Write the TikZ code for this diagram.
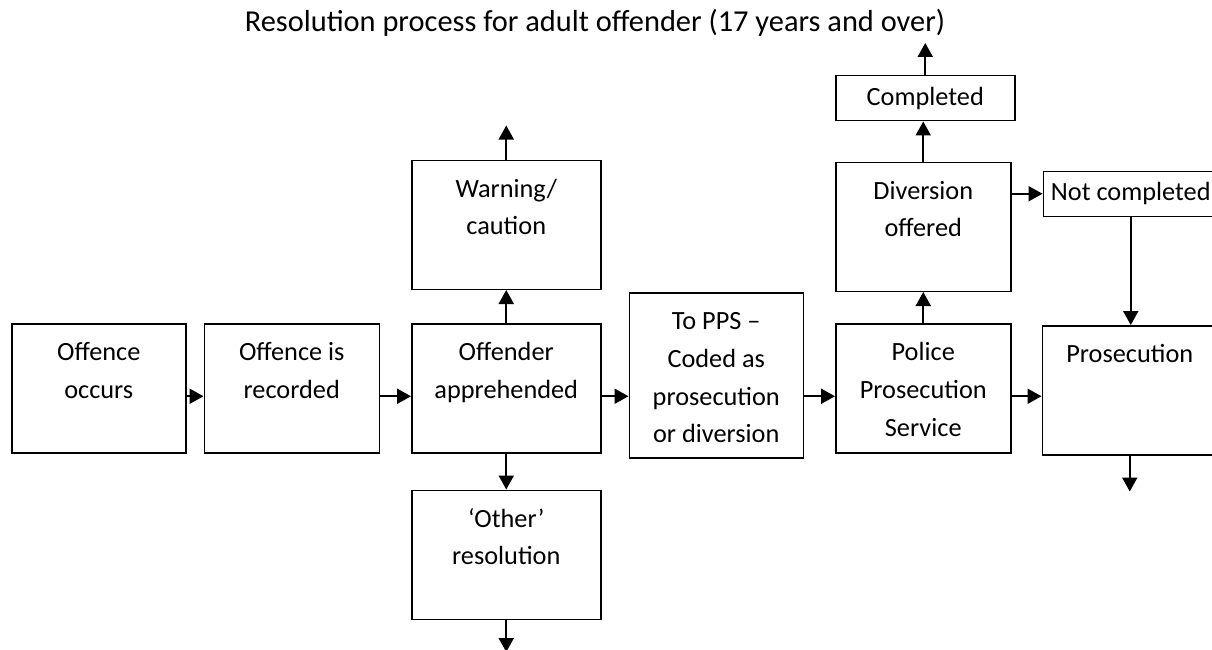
\documentclass[tikz,border=0pt]{standalone}
\usepackage{fontspec}
\setmainfont{Carlito}
\usepackage{tikz}
\usetikzlibrary{arrows.meta,positioning,calc}

\begin{document}
\begin{tikzpicture}[
    x=1pt, y=-1pt,
    box/.style={rectangle, draw=black, line width=1.5pt, align=flush center, inner sep=0pt, text height=37pt, text depth=92pt, font=\fontsize{26.3}{37.7}\selectfont},
    shortbox/.style={rectangle, draw=black, line width=1.5pt, align=flush center, inner sep=0pt, minimum height=45pt, font=\fontsize{26.3}{37.7}\selectfont},
    arrow/.style={->, >={Triangle[length=14pt,width=15pt]}, line width=2pt}
]
    \useasboundingbox (0,0) rectangle (1212,650);

    % Title
    \node[font=\fontsize{30.4}{36}\selectfont, anchor=base] (title) at (595,32) {Resolution process for adult offender (17 years and over)};

    % Main row
    \node[box, text width=174pt, anchor=north west] (occurs) at (11,323) {Offence\\occurs};
    \node[box, text width=175pt, right=17pt of occurs] (recorded) {Offence is\\recorded};
    \node[box, text width=189pt, right=31pt of recorded] (apprehended) {Offender\\apprehended};
    \node[box, text width=174pt, text depth=128pt, right=27pt of apprehended, yshift=13pt] (topps) {To PPS –\\Coded as\\prosecution\\or diversion};
    \node[box, text width=175pt, right=31pt of topps, yshift=-13pt] (pps) {Police\\Prosecution\\Service};
    \node[box, text width=175pt, right=30pt of pps, yshift=-2pt] (prosecution) {Prosecution};

    % Branches
    \node[box, text width=189pt, above=33pt of apprehended] (warning) {Warning/\\caution};
    \node[box, text width=189pt, below=36pt of apprehended] (other) {‘Other’\\resolution};
    \node[box, text width=175pt, above=31pt of pps] (diversion) {Diversion\\offered};
    \node[shortbox, text width=179pt, above=40pt of diversion, xshift=2pt] (completed) {Completed};
    \node[shortbox, text width=175pt, above=108pt of prosecution, xshift=1pt] (notcompleted) {Not completed};

    % Open ends
    \coordinate[above=34pt of warning] (warningout);
    \coordinate[below=32pt of other] (otherout);
    \coordinate[above=32pt of completed] (completedout);
    \coordinate[below=36pt of prosecution] (prosecutionout);

    % Arrows
    \draw[arrow] ([yshift=-8pt]occurs.east) -- ([yshift=-8pt]recorded.west);
    \draw[arrow] ([yshift=-8pt]recorded.east) -- ([yshift=-8pt]apprehended.west);
    \draw[arrow] ([yshift=-8pt]apprehended.east) -- ([yshift=-8pt]apprehended.east -| topps.west);
    \draw[arrow] ([yshift=-8pt]pps.west -| topps.east) -- ([yshift=-8pt]pps.west);
    \draw[arrow] ([yshift=-8pt]pps.east) -- ([yshift=-8pt]pps.east -| prosecution.west);
    \draw[arrow] (apprehended) -- (warning);
    \draw[arrow] (warning) -- (warningout);
    \draw[arrow] (apprehended) -- (other);
    \draw[arrow] (other) -- (otherout);
    \draw[arrow] (pps) -- (diversion);
    \draw[arrow] (diversion.north) -- (diversion.north |- completed.south);
    \draw[arrow] (completed) -- (completedout);
    \draw[arrow] (diversion.east |- notcompleted.west) -- (notcompleted.west);
    \draw[arrow] (notcompleted.south) -- (notcompleted.south |- prosecution.north);
    \draw[arrow] (prosecution) -- (prosecutionout);
\end{tikzpicture}
\end{document}
